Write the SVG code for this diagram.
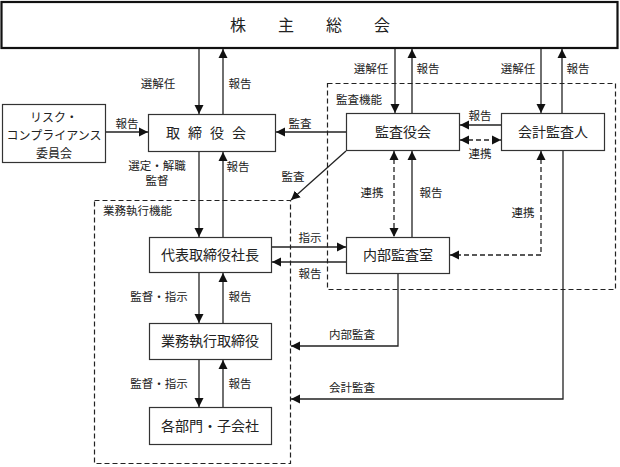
<svg xmlns="http://www.w3.org/2000/svg" width="620" height="467" viewBox="0 0 620 467">
<defs>
<marker id="ah" markerUnits="userSpaceOnUse" markerWidth="10" markerHeight="10" viewBox="0 0 10 10" refX="9" refY="5" orient="auto-start-reverse">
<path d="M0,0.5 L9,5 L0,9.5 z" fill="#111"/>
</marker>
<style>
.box{fill:#fff;stroke:#333;stroke-width:1.2}
.grp{fill:none;stroke:#222;stroke-width:1.2;stroke-dasharray:5,3}
.ln{fill:none;stroke:#222;stroke-width:1.3}
.dl{fill:none;stroke:#222;stroke-width:1.3;stroke-dasharray:5,3}
text{font-family:"Noto Sans CJK JP","Noto Sans CJK SC",sans-serif;fill:#222}
.t{font-size:14px;text-anchor:middle}
.s{font-size:11.5px;text-anchor:middle}
.r{font-size:12px;text-anchor:middle}
</style>
</defs>
<rect width="620" height="467" fill="#fff"/>

<g id="groups">
<rect class="grp" x="327.5" y="83.5" width="288" height="206"/>
<text x="336" y="104" style="font-size:11.5px">監査機能</text>
<rect class="grp" x="94.5" y="200.5" width="196" height="263"/>
<text x="103" y="215" style="font-size:11.5px">業務執行機能</text>
</g>

<g id="connectors">
<line class="ln" x1="199" y1="49" x2="199" y2="114" marker-end="url(#ah)"/>
<line class="ln" x1="223" y1="114" x2="223" y2="49" marker-end="url(#ah)"/>
<line class="ln" x1="395" y1="49" x2="395" y2="113" marker-end="url(#ah)"/>
<line class="ln" x1="412" y1="113" x2="412" y2="49" marker-end="url(#ah)"/>
<line class="ln" x1="541" y1="49" x2="541" y2="113" marker-end="url(#ah)"/>
<line class="ln" x1="562" y1="113" x2="562" y2="49" marker-end="url(#ah)"/>
<line class="ln" x1="106" y1="132" x2="148" y2="132" marker-end="url(#ah)"/>
<line class="ln" x1="346" y1="132" x2="276" y2="132" marker-end="url(#ah)"/>
<line class="ln" x1="346" y1="151" x2="291" y2="200" marker-end="url(#ah)"/>
<line class="ln" x1="501" y1="125" x2="460" y2="125" marker-end="url(#ah)"/>
<line class="dl" x1="460" y1="140" x2="501" y2="140" marker-start="url(#ah)" marker-end="url(#ah)"/>
<line class="ln" x1="199" y1="152" x2="199" y2="237" marker-end="url(#ah)"/>
<line class="ln" x1="223" y1="237" x2="223" y2="152" marker-end="url(#ah)"/>
<line class="ln" x1="272" y1="247" x2="346" y2="247" marker-end="url(#ah)"/>
<line class="ln" x1="346" y1="262" x2="272" y2="262" marker-end="url(#ah)"/>
<line class="dl" x1="394" y1="151" x2="394" y2="237" marker-start="url(#ah)" marker-end="url(#ah)"/>
<line class="ln" x1="412" y1="237" x2="412" y2="151" marker-end="url(#ah)"/>
<polyline class="dl" points="541,151 541,255 450,255" marker-start="url(#ah)" marker-end="url(#ah)"/>
<polyline class="ln" points="398,274 398,346 291,346" marker-end="url(#ah)"/>
<polyline class="ln" points="563,151 563,399 291,399" marker-end="url(#ah)"/>
<line class="ln" x1="199" y1="273" x2="199" y2="323" marker-end="url(#ah)"/>
<line class="ln" x1="223" y1="323" x2="223" y2="273" marker-end="url(#ah)"/>
<line class="ln" x1="199" y1="360" x2="199" y2="407" marker-end="url(#ah)"/>
<line class="ln" x1="223" y1="407" x2="223" y2="360" marker-end="url(#ah)"/>

<text class="s" x="158" y="88">選解任</text>
<text class="s" x="240" y="88">報告</text>
<text class="s" x="371" y="73">選解任</text>
<text class="s" x="428" y="73">報告</text>
<text class="s" x="518" y="73">選解任</text>
<text class="s" x="578" y="73">報告</text>
<text class="s" x="127" y="128">報告</text>
<text class="s" x="300" y="128">監査</text>
<text class="s" x="480" y="120">報告</text>
<text class="s" x="480" y="158">連携</text>
<text class="s" x="157" y="170">選定・解職</text>
<text class="s" x="157" y="185">監督</text>
<text class="s" x="238" y="171">報告</text>
<text class="s" x="293" y="181">監査</text>
<text class="s" x="372" y="197">連携</text>
<text class="s" x="431" y="197">報告</text>
<text class="s" x="523" y="217">連携</text>
<text class="s" x="310" y="242">指示</text>
<text class="s" x="310" y="278">報告</text>
<text class="s" x="159" y="301">監督・指示</text>
<text class="s" x="240" y="301">報告</text>
<text class="s" x="159" y="388">監督・指示</text>
<text class="s" x="240" y="388">報告</text>
<text class="s" x="352" y="339">内部監査</text>
<text class="s" x="352" y="392">会計監査</text>
</g>

<g id="shareholders">
<rect x="1.5" y="2" width="616" height="46" fill="#fff" stroke="#111" stroke-width="2.2"/>
<text x="326" y="31" style="font-size:16px;text-anchor:middle;letter-spacing:32px">株主総会</text>
</g>
<g id="risk">
<rect class="box" x="2.5" y="104.5" width="103" height="58"/>
<text class="r" x="54" y="122">リスク・</text>
<text class="r" x="54" y="140">コンプライアンス</text>
<text class="r" x="54" y="158">委員会</text>
</g>
<g id="board">
<rect class="box" x="148.5" y="114.5" width="127" height="37"/>
<text class="t" x="210" y="138" style="letter-spacing:8px">取締役会</text>
</g>
<g id="auditboard">
<rect class="box" x="346.5" y="113.5" width="113" height="37"/>
<text class="t" x="403" y="137">監査役会</text>
</g>
<g id="auditor">
<rect class="box" x="501.5" y="113.5" width="103" height="37"/>
<text class="t" x="553" y="137">会計監査人</text>
</g>
<g id="president">
<rect class="box" x="149.5" y="237.5" width="122" height="35"/>
<text class="t" x="210" y="260">代表取締役社長</text>
</g>
<g id="internalaudit">
<rect class="box" x="346.5" y="237.5" width="103" height="36"/>
<text class="t" x="398" y="260">内部監査室</text>
</g>
<g id="executive">
<rect class="box" x="149.5" y="323.5" width="122" height="36"/>
<text class="t" x="210" y="346">業務執行取締役</text>
</g>
<g id="divisions">
<rect class="box" x="149.5" y="407.5" width="122" height="37"/>
<text class="t" x="210" y="431">各部門・子会社</text>
</g>
</svg>
